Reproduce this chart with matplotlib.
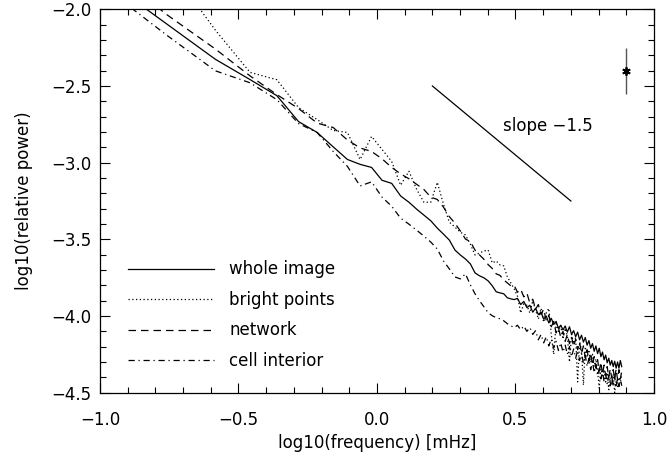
import numpy as np
import matplotlib
matplotlib.use("Agg")
import matplotlib.pyplot as plt
from matplotlib.ticker import MultipleLocator, FuncFormatter

plt.rcParams['font.family'] = ['DejaVu Sans']
plt.rcParams['axes.unicode_minus'] = True

# frequency bins [mHz]
freq_mhz = [0.087, 0.174, 0.261, 0.348, 0.435, 0.521, 0.608, 0.695, 0.782, 0.869,
            0.956, 1.043, 1.130, 1.217, 1.304, 1.390, 1.477, 1.564, 1.651, 1.738,
            1.825, 1.912, 1.999, 2.086, 2.173, 2.259, 2.346, 2.433, 2.520, 2.607,
            2.694, 2.781, 2.868, 2.955, 3.042, 3.128, 3.215, 3.302, 3.389, 3.476,
            3.563, 3.650, 3.737, 3.824, 3.911, 3.997, 4.084, 4.171, 4.258, 4.345,
            4.432, 4.519, 4.606, 4.693, 4.780, 4.866, 4.953, 5.040, 5.127, 5.214,
            5.301, 5.388, 5.475, 5.562, 5.649, 5.735, 5.822, 5.909, 5.996, 6.083,
            6.170, 6.257, 6.344, 6.431, 6.518, 6.604, 6.691, 6.778, 6.865, 6.952,
            7.039, 7.126, 7.213, 7.300, 7.387, 7.473, 7.560, 7.647]

# log10(relative power)
whole_image = [-1.700, -2.095, -2.326, -2.458, -2.563, -2.732, -2.803, -2.897, -2.979, -3.011,
               -3.031, -3.115, -3.135, -3.217, -3.258, -3.303, -3.342, -3.379, -3.427, -3.466,
               -3.505, -3.570, -3.602, -3.628, -3.660, -3.719, -3.738, -3.751, -3.771, -3.803,
               -3.842, -3.849, -3.855, -3.881, -3.888, -3.893, -3.885, -3.925, -3.905, -3.945,
               -3.930, -3.975, -3.950, -3.990, -3.975, -4.020, -4.000, -4.045, -4.015, -4.055,
               -4.035, -4.080, -4.060, -4.090, -4.065, -4.105, -4.070, -4.120, -4.095, -4.135,
               -4.105, -4.155, -4.125, -4.170, -4.140, -4.190, -4.160, -4.210, -4.180, -4.230,
               -4.195, -4.245, -4.210, -4.265, -4.235, -4.285, -4.255, -4.305, -4.275, -4.320,
               -4.290, -4.330, -4.295, -4.340, -4.300, -4.340, -4.290, -4.330]

bright_points = [-1.300, -1.703, -2.136, -2.411, -2.459, -2.641, -2.719, -2.790, -2.803, -2.979,
                 -2.829, -2.914, -2.992, -3.147, -3.056, -3.173, -3.258, -3.258, -3.128, -3.271,
                 -3.388, -3.420, -3.453, -3.472, -3.531, -3.602, -3.589, -3.576, -3.570, -3.654,
                 -3.641, -3.667, -3.673, -3.745, -3.784, -3.823, -3.870, -3.980, -3.920, -3.930,
                 -3.980, -3.900, -3.960, -4.020, -3.950, -4.040, -3.980, -3.950, -4.120, -4.250,
                 -4.050, -4.100, -4.060, -4.150, -4.080, -4.130, -4.300, -4.120, -4.180, -4.140,
                 -4.430, -4.170, -4.220, -4.450, -4.200, -4.270, -4.220, -4.300, -4.250, -4.330,
                 -4.280, -4.360, -4.470, -4.320, -4.400, -4.350, -4.430, -4.370, -4.480, -4.400,
                 -4.450, -4.380, -4.500, -4.420, -4.460, -4.400, -4.440, -4.380]

network = [-1.600, -2.034, -2.259, -2.434, -2.556, -2.647, -2.742, -2.771, -2.852, -2.904,
           -2.927, -2.975, -3.031, -3.073, -3.105, -3.141, -3.175, -3.225, -3.240, -3.290,
           -3.352, -3.395, -3.445, -3.498, -3.515, -3.570, -3.602, -3.630, -3.665, -3.690,
           -3.725, -3.735, -3.765, -3.784, -3.803, -3.800, -3.845, -3.825, -3.875, -3.850,
           -3.915, -3.890, -3.955, -3.925, -3.990, -3.955, -4.030, -3.995, -4.070, -4.035,
           -4.110, -4.075, -4.140, -4.100, -4.165, -4.120, -4.180, -4.135, -4.200, -4.150,
           -4.220, -4.170, -4.245, -4.195, -4.275, -4.220, -4.295, -4.240, -4.320, -4.265,
           -4.340, -4.285, -4.360, -4.300, -4.380, -4.320, -4.390, -4.330, -4.400, -4.345,
           -4.405, -4.350, -4.410, -4.345, -4.415, -4.350, -4.410, -4.360]

cell_interior = [-1.751, -2.168, -2.401, -2.479, -2.589, -2.745, -2.803, -2.927, -3.024, -3.152,
                 -3.125, -3.225, -3.284, -3.362, -3.401, -3.440, -3.479, -3.518, -3.563, -3.641,
                 -3.693, -3.745, -3.758, -3.725, -3.797, -3.855, -3.901, -3.940, -3.979, -3.998,
                 -4.011, -4.018, -4.031, -4.050, -4.063, -4.076, -4.060, -4.090, -4.065, -4.100,
                 -4.075, -4.120, -4.095, -4.155, -4.120, -4.175, -4.135, -4.195, -4.150, -4.210,
                 -4.165, -4.225, -4.175, -4.235, -4.190, -4.250, -4.200, -4.265, -4.215, -4.275,
                 -4.225, -4.290, -4.240, -4.310, -4.255, -4.330, -4.275, -4.350, -4.295, -4.370,
                 -4.315, -4.390, -4.340, -4.410, -4.355, -4.430, -4.375, -4.445, -4.385, -4.455,
                 -4.390, -4.460, -4.395, -4.465, -4.400, -4.460, -4.405, -4.455]

# reference slope line and typical error bar
slope_x = [0.2, 0.7]
slope_y = [-2.5, -3.25]
err_x = 0.9
err_y = -2.4
err_size = 0.15

fs = 12

fig = plt.figure(figsize=(6.72, 4.57), dpi=100)
ax = fig.add_axes([0.1488, 0.1407, 0.8244, 0.8389])

logf = np.log10(freq_mhz)
lw = 0.9
ax.plot(logf, whole_image, color='black', lw=lw, ls='-', label='whole image')
ax.plot(logf, bright_points, color='black', lw=lw, ls=(0, (1, 2)), label='bright points')
ax.plot(logf, network, color='black', lw=lw, ls=(0, (6, 4)), label='network')
ax.plot(logf, cell_interior, color='black', lw=lw, ls=(0, (5, 3, 1, 3)), label='cell interior')

ax.plot(slope_x, slope_y, color='black', lw=lw)
ax.text(0.455, -2.76, 'slope \u22121.5', fontsize=fs, va='center', ha='left')

ax.errorbar([err_x], [err_y], yerr=[err_size], fmt='none', ecolor='#555555', elinewidth=1.0, capsize=0)
ax.plot([err_x], [err_y], marker=(6, 2, 0), ms=6, mew=1.3, color='black', ls='none')

ax.set_xlim(-1.0, 1.0)
ax.set_ylim(-4.5, -2.0)
ax.xaxis.set_major_locator(MultipleLocator(0.5))
ax.xaxis.set_minor_locator(MultipleLocator(0.1))
ax.yaxis.set_major_locator(MultipleLocator(0.5))
ax.yaxis.set_minor_locator(MultipleLocator(0.1))
fmt = FuncFormatter(lambda v, pos: ('%.1f' % v).replace('-', '\u2212'))
ax.xaxis.set_major_formatter(fmt)
ax.yaxis.set_major_formatter(fmt)

ax.tick_params(which='both', direction='in', top=True, right=True, width=0.8, labelsize=fs)
ax.tick_params(which='major', length=7)
ax.tick_params(which='minor', length=4)
ax.tick_params(axis='x', pad=13)
ax.tick_params(axis='y', pad=6)
for sp in ax.spines.values():
    sp.set_linewidth(0.9)

ax.set_xlabel('log10(frequency) [mHz]', fontsize=fs, labelpad=4)
ax.set_ylabel('log10(relative power)', fontsize=fs, labelpad=13)

ax.legend(loc='upper left', bbox_to_anchor=(0.05, 0.345), frameon=False, fontsize=fs,
          handlelength=5.2, handletextpad=0.9, labelspacing=0.75, borderpad=0, borderaxespad=0)

fig.savefig('out.png', dpi=100)
